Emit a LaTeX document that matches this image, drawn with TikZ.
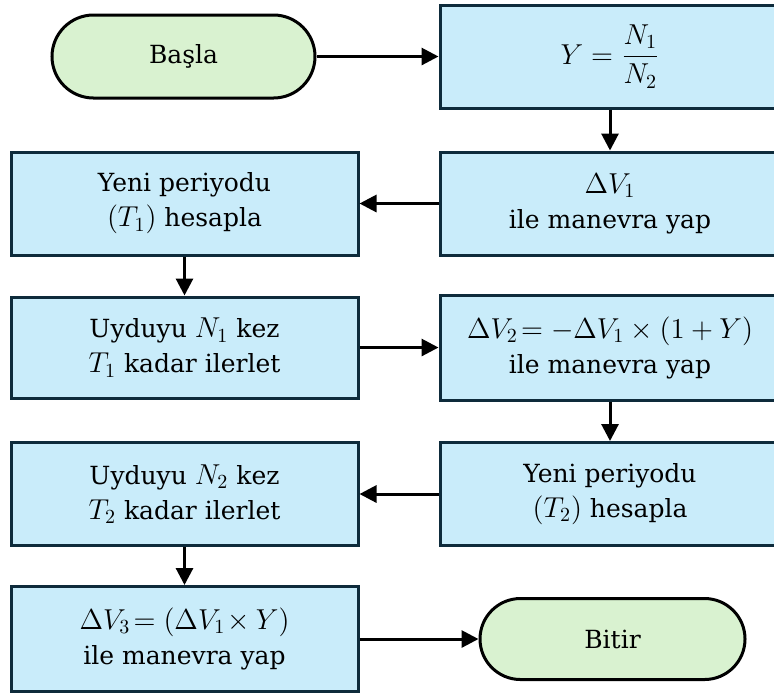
\documentclass[tikz,border=0pt]{standalone}
\usepackage{fontspec}
\setmainfont{DejaVu Serif}
\usetikzlibrary{arrows.meta,shapes.misc}
\definecolor{boxfill}{HTML}{C9ECFA}
\definecolor{boxline}{HTML}{0E2B3B}
\definecolor{termfill}{HTML}{D9F2D0}
% formulas set a little larger than the surrounding text
\newcommand{\mathtxt}[1]{{\fontsize{14}{17.5}\selectfont$#1$}}
\begin{document}
\begin{tikzpicture}[x=0.5pt,y=-0.5pt,
  every node/.style={font=\fontsize{12.5}{17.5}\selectfont, align=center, inner sep=0pt},
  proc/.style={rectangle, draw=boxline, fill=boxfill, line width=1.5pt, minimum height=51.5pt},
  lproc/.style={proc, minimum width=173.5pt},
  rproc/.style={proc, minimum width=170pt},
  term/.style={rounded rectangle, draw=black, fill=termfill, line width=1.5pt},
  flow/.style={line width=1.5pt, -{Triangle[length=8.5pt,width=8.5pt]}}]
\useasboundingbox (0,0) rectangle (774,693);

% terminals
\node[term, minimum width=131.5pt, minimum height=41.5pt] (start) at (183.5,56.5) {Başla};
\node[term, minimum width=132.5pt, minimum height=40.5pt] (stop) at (612.5,639) {Bitir};

% right column
\node[rproc] (ratio) at (610,56.5) {\mathtxt{Y = \displaystyle\frac{N_1}{N_2}}};
\node[rproc] (dv1) at (610,203.5) {\mathtxt{\Delta V_1}\\ile manevra yap};
\node[rproc, minimum height=52.5pt] (dv2) at (610,347.5) {\mathtxt{\Delta V_2\!= -\Delta V_1 \times (1 + Y)}\\ile manevra yap};
\node[rproc] (per2) at (610,494) {Yeni periyodu\\\mathtxt{(T_2)} hesapla};

% left column
\node[lproc] (per1) at (184.5,203.5) {Yeni periyodu\\\mathtxt{(T_1)} hesapla};
\node[lproc, minimum height=50.5pt] (adv1) at (184.5,347.5) {Uyduyu \mathtxt{N_1} kez\\\mathtxt{T_1} kadar ilerlet};
\node[lproc] (adv2) at (184.5,494) {Uyduyu \mathtxt{N_2} kez\\\mathtxt{T_2} kadar ilerlet};
\node[lproc, minimum height=52.5pt] (dv3) at (184.5,639) {\mathtxt{\Delta V_3\!= (\Delta V_1\!\times Y)}\\ile manevra yap};

% connectors
\draw[flow] (start.east) -- (ratio.west);
\draw[flow] (ratio.south) -- (dv1.north);
\draw[flow] (dv1.west) -- (per1.east);
\draw[flow] (per1.south) -- (adv1.north);
\draw[flow] (adv1.east) -- (dv2.west);
\draw[flow] (dv2.south) -- (per2.north);
\draw[flow] (per2.west) -- (adv2.east);
\draw[flow] (adv2.south) -- (dv3.north);
\draw[flow] (dv3.east) -- (stop.west);
\end{tikzpicture}
\end{document}
